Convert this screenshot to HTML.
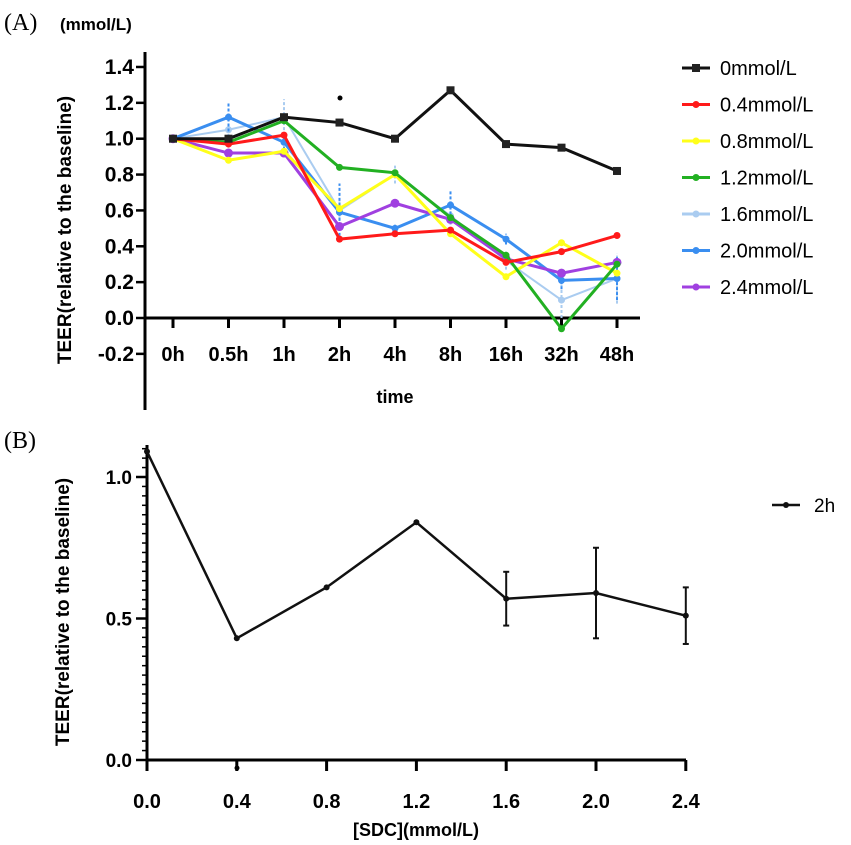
<!DOCTYPE html>
<html><head><meta charset="utf-8"><style>
html,body{margin:0;padding:0;background:#fff;}
svg{display:block;font-family:"Liberation Sans",sans-serif;}
</style></head><body>
<svg id="fig" width="851" height="845" viewBox="0 0 851 845">
<text x="4" y="30" font-family="Liberation Serif,serif" font-size="24">(A)</text>
<text x="60" y="30" font-size="17" font-weight="bold">(mmol/L)</text>
<text x="4" y="448" font-family="Liberation Serif,serif" font-size="24">(B)</text>
<text transform="translate(71,230) rotate(-90)" text-anchor="middle" font-size="19" font-weight="bold">TEER(relative to the baseline)</text>
<text x="395" y="403" text-anchor="middle" font-size="18" font-weight="bold">time</text>
<text transform="translate(69,612) rotate(-90)" text-anchor="middle" font-size="19" font-weight="bold">TEER(relative to the baseline)</text>
<text x="416" y="836" text-anchor="middle" font-size="18" font-weight="bold">[SDC](mmol/L)</text>
<g id="ga"></g><g id="gb"></g>
</svg>
<script>
const catsA=["0h","0.5h","1h","2h","4h","8h","16h","32h","48h"];
const seriesNames=["0mmol/L","0.4mmol/L","0.8mmol/L","1.2mmol/L","1.6mmol/L","2.0mmol/L","2.4mmol/L"];
const s0=[1.0,1.0,1.12,1.09,1.0,1.27,0.97,0.95,0.82];
const s04=[1.0,0.97,1.02,0.44,0.47,0.49,0.31,0.37,0.46];
const s08=[1.0,0.88,0.93,0.61,0.80,0.47,0.23,0.42,0.25];
const s12=[1.0,0.98,1.10,0.84,0.81,0.56,0.35,-0.06,0.30];
const s16=[1.0,1.05,1.12,0.60,0.80,0.57,0.32,0.10,0.22];
const s20=[1.0,1.12,0.98,0.59,0.50,0.63,0.44,0.21,0.22];
const s24=[1.0,0.92,0.92,0.51,0.64,0.55,0.33,0.25,0.31];
const err16=[0,0.04,0.1,0.05,0.05,0.05,0.05,0.1,0.14];
const err20=[0,0.08,0.04,0.16,0.02,0.08,0.03,0.05,0.12];
const yTicksA=[-0.2,0,0.2,0.4,0.6,0.8,1.0,1.2,1.4];
const catsB=[0,0.4,0.8,1.2,1.6,2.0,2.4];
const valsB=[1.09,0.43,0.61,0.84,0.57,0.59,0.51];
const errB=[0,0,0,0,0.095,0.16,0.1];
const yTicksB=[0,0.5,1.0];

const NS="http://www.w3.org/2000/svg";
function mk(p,t,a){const e=document.createElementNS(NS,t);for(const k in a)e.setAttribute(k,a[k]);p.appendChild(e);return e;}
const ga=document.getElementById('ga'), gb=document.getElementById('gb');
const xA=i=>173+i*55.5, yA=v=>318-v*179.3;
let e=mk(ga,'line',{x1:145,y1:52,x2:145,y2:410,stroke:'#000','stroke-width':3});

e=mk(ga,'line',{x1:145,y1:318,x2:640,y2:318,stroke:'#000','stroke-width':3});

yTicksA.forEach(v=>{
 mk(ga,'line',{x1:136,y1:yA(v),x2:145,y2:yA(v),stroke:'#000','stroke-width':2.5});
 const t=mk(ga,'text',{x:134,y:yA(v)+7,'text-anchor':'end','font-size':21,'font-weight':'bold'});
 t.textContent=v.toFixed(1);
 
});
catsA.forEach((c,i)=>{
 mk(ga,'line',{x1:xA(i),y1:318,x2:xA(i),y2:328,stroke:'#000','stroke-width':3});
 const t=mk(ga,'text',{x:xA(i),y:361,'text-anchor':'middle','font-size':20,'font-weight':'bold'});
 t.textContent=c;
 
});
const star=mk(ga,'circle',{cx:340,cy:98,r:2.5,fill:'#000'});

const allS=[s0,s04,s08,s12,s16,s20,s24];
const cols=['#111','#ff1a1a','#ffff1a','#22b022','#aaccf0','#3a8ef0','#a040e0'];
const errs=[null,null,null,null,err16,err20,null];
const order=[4,5,6,2,3,1,0];
order.forEach(k=>{
 const g=mk(ga,'g',{});
 
 
 const s=allS[k];
 if(errs[k]) s.forEach((v,i)=>{if(errs[k][i]>0)mk(g,'line',{x1:xA(i),y1:yA(v-errs[k][i]),x2:xA(i),y2:yA(v+errs[k][i]),stroke:cols[k],'stroke-width':2,'stroke-dasharray':'3 2'});});
 mk(g,'polyline',{points:s.map((v,i)=>xA(i)+','+yA(v)).join(' '),fill:'none',stroke:cols[k],'stroke-width':k==4?2:3});
 s.forEach((v,i)=>{
  if(k==0){mk(g,'rect',{x:xA(i)-4,y:yA(v)-4,width:8,height:8,fill:'#222'});}
  else mk(g,'circle',{cx:xA(i),cy:yA(v),r:k==6?4.5:3.5,fill:cols[k]});
 });
});
seriesNames.forEach((n,k)=>{
 const y=68+k*36.5;
 const g=mk(ga,'g',{});
 
 mk(g,'line',{x1:682,y1:y,x2:710,y2:y,stroke:cols[k],'stroke-width':3});
 if(k==0)mk(g,'rect',{x:692,y:y-4,width:8,height:8,fill:'#222'});else mk(g,'circle',{cx:696,cy:y,r:3.5,fill:cols[k]});
 const t=mk(g,'text',{x:720,y:y+7,'font-size':20});t.textContent=n;
});
const xB=v=>147+v/0.4*89.8, yB=v=>760-v*283;
e=mk(gb,'line',{x1:147,y1:445,x2:147,y2:761,stroke:'#000','stroke-width':3});

e=mk(gb,'line',{x1:147,y1:760,x2:686,y2:760,stroke:'#000','stroke-width':3});

for(let j=1;j<34;j++){const v=j/30;if(j%15)mk(gb,'line',{x1:142,y1:yB(v),x2:147,y2:yB(v),stroke:'#000','stroke-width':1.5});}
yTicksB.forEach(v=>{
 mk(gb,'line',{x1:136,y1:yB(v),x2:147,y2:yB(v),stroke:'#000','stroke-width':2.5});
 const t=mk(gb,'text',{x:132,y:yB(v)+7,'text-anchor':'end','font-size':19,'font-weight':'bold'});
 t.textContent=v.toFixed(1);
 
});
catsB.forEach(c=>{
 mk(gb,'line',{x1:xB(c),y1:760,x2:xB(c),y2:771,stroke:'#000','stroke-width':3});
 const t=mk(gb,'text',{x:xB(c),y:808,'text-anchor':'middle','font-size':20,'font-weight':'bold'});
 t.textContent=c.toFixed(1);
 
});
const gl=mk(gb,'g',{});

valsB.forEach((v,i)=>{if(errB[i]>0){const x=xB(catsB[i]);
 mk(gl,'line',{x1:x,y1:yB(v-errB[i]),x2:x,y2:yB(v+errB[i]),stroke:'#111','stroke-width':2});
 mk(gl,'line',{x1:x-3,y1:yB(v-errB[i]),x2:x+3,y2:yB(v-errB[i]),stroke:'#111','stroke-width':2});
 mk(gl,'line',{x1:x-3,y1:yB(v+errB[i]),x2:x+3,y2:yB(v+errB[i]),stroke:'#111','stroke-width':2});}});
mk(gl,'polyline',{points:valsB.map((v,i)=>xB(catsB[i])+','+yB(v)).join(' '),fill:'none',stroke:'#111','stroke-width':2.5});
valsB.forEach((v,i)=>mk(gl,'circle',{cx:xB(catsB[i]),cy:yB(v),r:3,fill:'#111'}));
const st=mk(gb,'circle',{cx:237,cy:768,r:2.5,fill:'#000'});

const lg=mk(gb,'g',{});

mk(lg,'line',{x1:772,y1:505,x2:800,y2:505,stroke:'#111','stroke-width':2.5});
mk(lg,'circle',{cx:786,cy:505,r:3,fill:'#111'});
const lt=mk(lg,'text',{x:814,y:512,'font-size':19});lt.textContent='2h';
</script>
</body></html>
